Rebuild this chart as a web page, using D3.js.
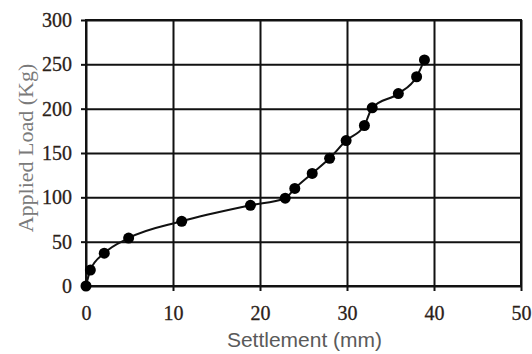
<!DOCTYPE html>
<html>
<head>
<meta charset="utf-8">
<script src="https://cdn.jsdelivr.net/npm/d3@7"></script>
<style>
  body { margin: 0; background: #fff; }
  #chart { width: 532px; height: 354px; }
</style>
</head>
<body>
<div id="chart"></div>
<script>
// Load test readings
const settlement = [0, 0.5, 2.1, 4.9, 11.0, 18.9, 22.9, 24.0, 26.0, 28.0, 29.9, 32.0, 32.9, 35.9, 38.0, 38.9];
const appliedLoad = [0, 18, 37, 54, 73, 91, 99, 110, 127, 144, 164, 181, 201, 217, 236, 255];
const xTicks = [0, 10, 20, 30, 40, 50];
const yTicks = [0, 50, 100, 150, 200, 250, 300];

const data = settlement.map((s, i) => ({ x: s, y: appliedLoad[i] }));

const margin = { top: 20, right: 11, bottom: 68, left: 86 };
const width = 532 - margin.left - margin.right;
const height = 354 - margin.top - margin.bottom;

const svg = d3.select('#chart')
    .append('svg')
    .attr('width', 532)
    .attr('height', 354)
    .append('g')
    .attr('transform', `translate(${margin.left},${margin.top})`);

const x = d3.scaleLinear().domain([0, 50]).range([0, width]);
const y = d3.scaleLinear().domain([0, 300]).range([height, 0]);

// grid lines
svg.append('g')
    .call(d3.axisLeft(y).tickValues(yTicks).tickSize(-width).tickFormat(''))
    .call(g => g.select('.domain').remove())
    .call(g => g.selectAll('line').attr('stroke', '#111').attr('stroke-width', 2));

svg.append('g')
    .attr('transform', `translate(0,${height})`)
    .call(d3.axisBottom(x).tickValues(xTicks).tickSize(-height).tickFormat(''))
    .call(g => g.select('.domain').remove())
    .call(g => g.selectAll('line').attr('stroke', '#111').attr('stroke-width', 2));

// axes with labels
const yAxis = svg.append('g')
    .call(d3.axisLeft(y).tickValues(yTicks).tickSize(5).tickPadding(9));
const xAxis = svg.append('g')
    .attr('transform', `translate(0,${height})`)
    .call(d3.axisBottom(x).tickValues(xTicks).tickSize(5).tickPadding(15));

[xAxis, yAxis].forEach(g => {
    g.attr('font-family', 'Liberation Serif, Times New Roman, serif')
        .attr('font-size', 20);
    g.select('.domain').remove();
    g.selectAll('line').attr('stroke', '#111').attr('stroke-width', 2);
    g.selectAll('text')
        .attr('fill', '#2b2118')
        .attr('stroke', '#2b2118')
        .attr('stroke-width', 0.3);
});

// frame
svg.append('rect')
    .attr('width', width).attr('height', height)
    .attr('fill', 'none')
    .attr('stroke', '#111')
    .attr('stroke-width', 2);

// curve
const line = d3.line()
    .x(d => x(d.x))
    .y(d => y(d.y))
    .curve(d3.curveMonotoneX);

svg.append('path')
    .datum(data)
    .attr('fill', 'none')
    .attr('stroke', '#111')
    .attr('stroke-width', 2)
    .attr('d', line);

svg.selectAll('.pt')
    .data(data)
    .enter()
    .append('circle')
    .attr('class', 'pt')
    .attr('cx', d => x(d.x))
    .attr('cy', d => y(d.y))
    .attr('r', 5.5)
    .attr('fill', '#000');

// axis titles
svg.append('text')
    .attr('x', width / 2 + 1)
    .attr('y', height + 61)
    .attr('text-anchor', 'middle')
    .attr('font-family', 'Liberation Sans, Arial, sans-serif')
    .attr('font-size', 21)
    .attr('fill', '#5a5a5a')
    .text('Settlement (mm)');

svg.append('text')
    .attr('transform', 'rotate(-90)')
    .attr('x', -128)
    .attr('y', -53)
    .attr('text-anchor', 'middle')
    .attr('font-family', 'Liberation Serif, Times New Roman, serif')
    .attr('font-size', 22)
    .attr('fill', '#7a7a7a')
    .text('Applied Load (Kg)');
</script>
</body>
</html>
